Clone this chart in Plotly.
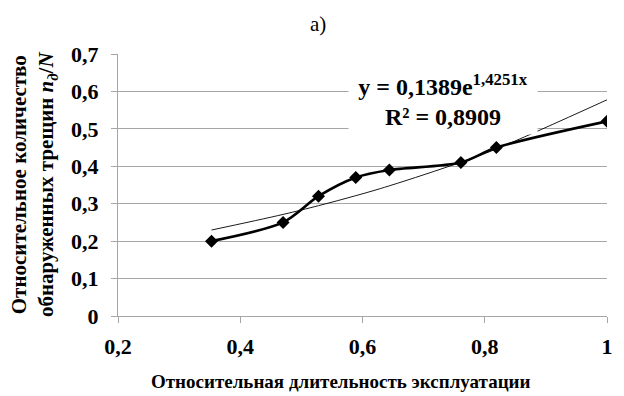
import plotly.graph_objects as go

# Data
x_vals = [0.353, 0.470, 0.528, 0.589, 0.644, 0.761, 0.819, 1.0]
y_vals = [0.20, 0.25, 0.32, 0.37, 0.39, 0.41, 0.45, 0.52]
# Exponential trend line values (y = 0,1389e^1,4251x) at the same x positions
trend_y = [0.2297, 0.2714, 0.2948, 0.3215, 0.3478, 0.4109, 0.4463, 0.5776]

x_ticks = [0.2, 0.4, 0.6, 0.8, 1.0]
y_ticks = [0, 0.1, 0.2, 0.3, 0.4, 0.5, 0.6, 0.7]

FONT = "Liberation Serif"
GRID = "#a6a6a6"

fig = go.Figure()
fig.add_trace(go.Scatter(
    x=x_vals, y=trend_y, mode="lines", line=dict(color="black", width=0.9, shape="spline"),
    showlegend=False, hoverinfo="skip"))
fig.add_trace(go.Scatter(
    x=x_vals, y=y_vals, mode="lines+markers",
    line=dict(color="black", width=2.6, shape="spline", smoothing=0.8),
    marker=dict(symbol="diamond", size=10, color="black"),
    showlegend=False))

fig.update_layout(
    width=624, height=396,
    margin=dict(l=118, r=17, t=54, b=80),
    paper_bgcolor="white", plot_bgcolor="white",
    separators=", ",
    font=dict(family=FONT, color="black"),
    xaxis=dict(
        range=[0.2, 1.0], tickvals=x_ticks, showgrid=False, zeroline=False,
        showline=True, linecolor=GRID, linewidth=1,
        ticks="outside", ticklen=6, tickcolor=GRID,
        ticklabelstandoff=5,
        tickfont=dict(family=FONT, size=22, color="black", weight="bold"),
    ),
    yaxis=dict(
        range=[0, 0.7], tickvals=y_ticks, showgrid=True, gridcolor=GRID, gridwidth=1,
        zeroline=False, showline=True, linecolor=GRID, linewidth=1,
        ticks="outside", ticklen=6, tickcolor=GRID,
        ticklabelstandoff=8,
        tickfont=dict(family=FONT, size=22, color="black", weight="bold"),
    ),
    annotations=[
        dict(text="а)", x=0.41, xref="paper", y=1.0, yref="paper", yshift=30,
             yanchor="middle", showarrow=False,
             font=dict(family=FONT, size=21, color="black")),
        dict(text="<b>Относительная длительность эксплуатации</b>",
             x=0.456, xref="paper", y=0, yref="paper", yshift=-65, yanchor="middle",
             showarrow=False, font=dict(family=FONT, size=19, color="black")),
        dict(text="<b>Относительное количество<br>обнаруженных трещин <i>n<sub>д</sub></i>/<i>N</i></b>",
             x=0, xref="paper", xshift=-84, y=0.5, yref="paper", yshift=0,
             xanchor="center", yanchor="middle", textangle=-90, showarrow=False,
             font=dict(family=FONT, size=21, color="black")),
        dict(text="<b>R² = 0,8909</b>",
             x=0.732, xref="x", y=0.5797, yref="y", yanchor="top", showarrow=False,
             bgcolor="white", width=186, height=32,
             font=dict(family=FONT, size=24, color="black")),
        dict(text="<b>y = 0,1389e<sup>1,4251x</sup></b>",
             x=0.731, xref="x", y=0.616, yref="y", showarrow=False,
             bgcolor="white", width=186, height=30,
             font=dict(family=FONT, size=24, color="black")),
    ],
)

fig.write_html("out.html", config={"displayModeBar": False},
               post_script="document.body.style.margin='0px';")
